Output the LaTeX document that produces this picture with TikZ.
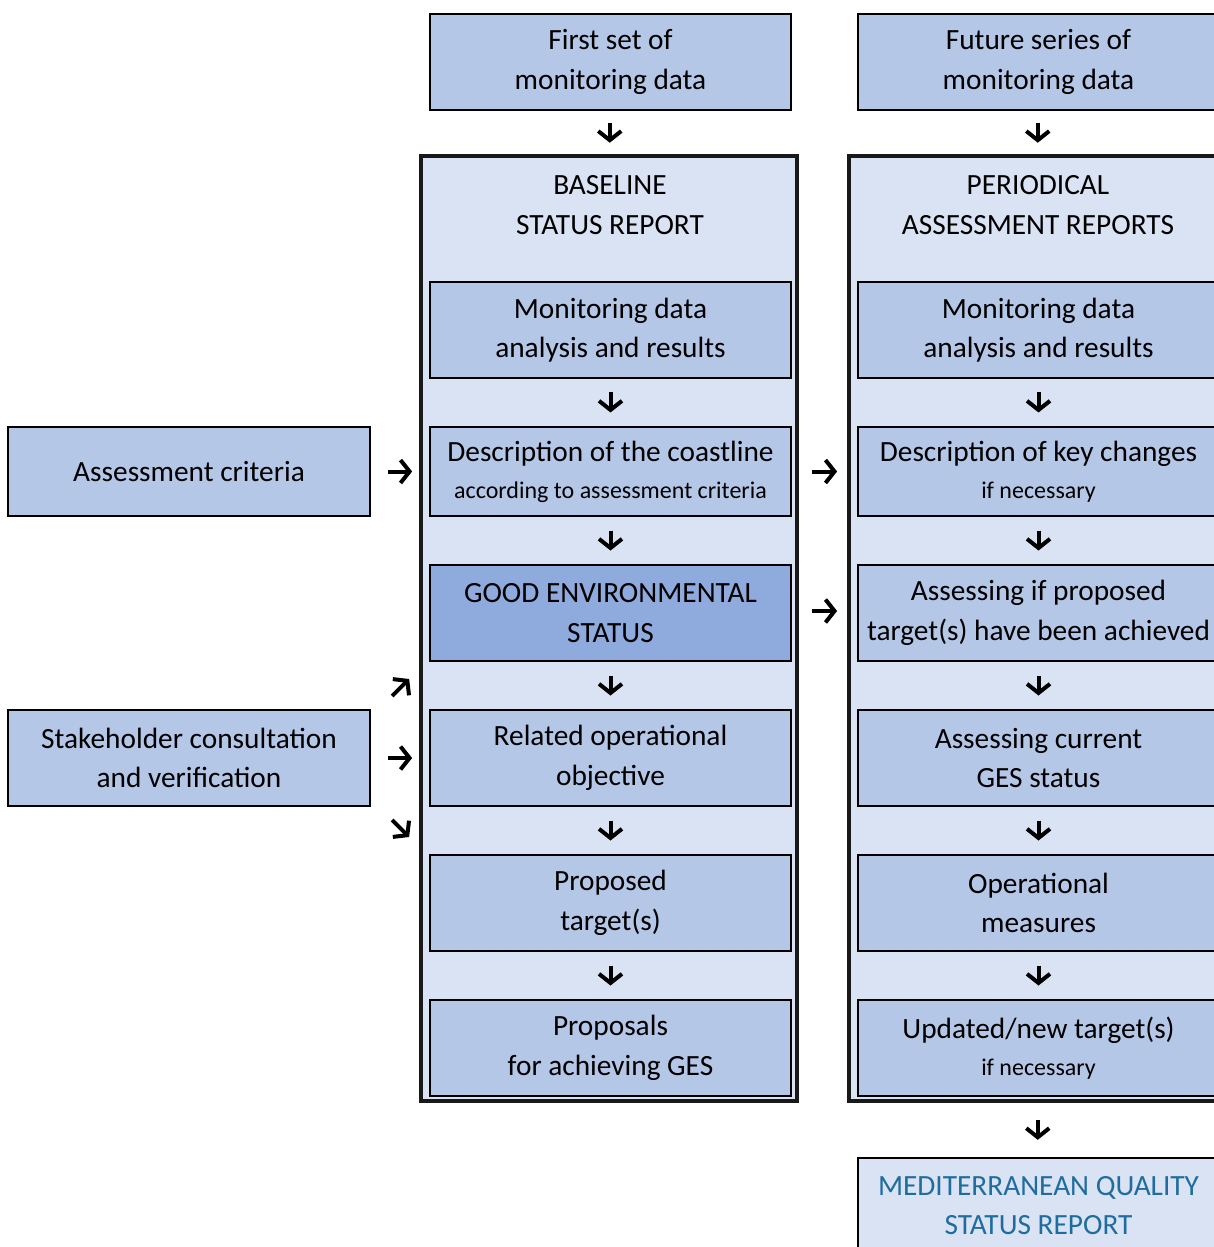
\documentclass[tikz,border=0pt]{standalone}
\usepackage{fontspec}
\setmainfont{Carlito}
\usetikzlibrary{arrows.meta,calc}
\definecolor{boxblue}{HTML}{B4C7E7}
\definecolor{panelblue}{HTML}{DAE3F3}
\definecolor{gesblue}{HTML}{8FAADC}
\definecolor{qsrblue}{HTML}{1F6C9E}
\tikzset{
  box/.style={draw=black, line width=0.8pt, fill=boxblue, minimum width=135.4pt,
    minimum height=36pt, align=center, inner sep=0pt, font=\fontsize{11}{14.8}\selectfont},
  lowbox/.style={box, minimum height=33.4pt},
  panel/.style={draw=black!90, line width=1.2pt, fill=panelblue, minimum width=141pt,
    minimum height=354.4pt, inner sep=0pt},
  title/.style={align=center, font=\fontsize{11}{14.8}\selectfont},
  arr/.style={line width=1.5pt, -{Straight Barb[length=3.4pt,width=8.6pt]}}
}
\newcommand{\sm}{\fontsize{9}{11}\selectfont}
\begin{document}
\begin{tikzpicture}[x=0.375pt, y=-0.375pt]
  \useasboundingbox (0,0) rectangle (1214,1247);
  % top boxes
  \node[box] (first) at (610.5,62) {First set of\\monitoring data};
  \node[box] (future) at (1038.5,62) {Future series of\\monitoring data};
  % the two panels
  \node[panel] (bpanel) at (609,628.5) {};
  \node[panel] (ppanel) at (1037,628.5) {};
  \node[title] (btitle) at (610,205) {BASELINE\\STATUS REPORT};
  \node[title] (ptitle) at (1038,205) {PERIODICAL\\ASSESSMENT REPORTS};
  % baseline column
  \node[box] (bmon) at (610.5,330) {Monitoring data\\analysis and results};
  \node[lowbox] (bdesc) at (610.5,471.5) {Description of the coastline\\[-1pt]{\sm according to assessment criteria}};
  \node[box, fill=gesblue] (bges) at (610.5,613) {GOOD ENVIRONMENTAL\\STATUS};
  \node[box] (bobj) at (610.5,758) {Related operational\\objective};
  \node[box] (btarget) at (610.5,903) {Proposed\\target(s)};
  \node[box] (bprop) at (610.5,1048) {Proposals\\for achieving GES};
  % periodical column
  \node[box] (pmon) at (1038.5,330) {Monitoring data\\analysis and results};
  \node[lowbox] (pdesc) at (1038.5,471.5) {Description of key changes\\[-1pt]{\sm if necessary}};
  \node[box] (pach) at (1038.5,613) {Assessing if proposed\\target(s) have been achieved};
  \node[box] (pges) at (1038.5,758) {Assessing current\\GES status};
  \node[box] (pmeas) at (1038.5,903) {Operational\\measures};
  \node[box] (pnew) at (1038.5,1048) {Updated/new target(s)\\[-1pt]{\sm if necessary}};
  % side inputs
  \node[lowbox, minimum width=135.8pt] (crit) at (189,471.5) {Assessment criteria};
  \node[box, minimum width=135.8pt] (stake) at (189,758) {Stakeholder consultation\\and verification};
  % final report
  \node[box, fill=panelblue, text=qsrblue, minimum height=35.5pt, anchor=north] (mqsr) at (1038.5,1157) {MEDITERRANEAN QUALITY\\STATUS REPORT};
  % down arrows
  \foreach \a/\b in {first/bpanel, bmon/bdesc, bdesc/bges, bges/bobj, bobj/btarget, btarget/bprop,
                     future/ppanel, pmon/pdesc, pdesc/pach, pach/pges, pges/pmeas, pmeas/pnew, ppanel/mqsr}
    \draw[arr] ($(\a.south)!.5!(\b.north)+(0,-10)$) -- ++(0,20);
  % side arrows
  \draw[arr] ($(crit.east)+(17,0)$) -- ++(24,0);
  \draw[arr] ($(stake.east)+(17,0)$) -- ++(24,0);
  \draw[arr] ($(stake.east)+(21,-62)$) -- ++(17,-17);
  \draw[arr] ($(stake.east)+(21,62)$) -- ++(17,17);
  \draw[arr] ($(bdesc.east)+(20,0)$) -- ++(25,0);
  \draw[arr] ($(bges.east)+(20,-2)$) -- ++(25,0);
\end{tikzpicture}
\end{document}
